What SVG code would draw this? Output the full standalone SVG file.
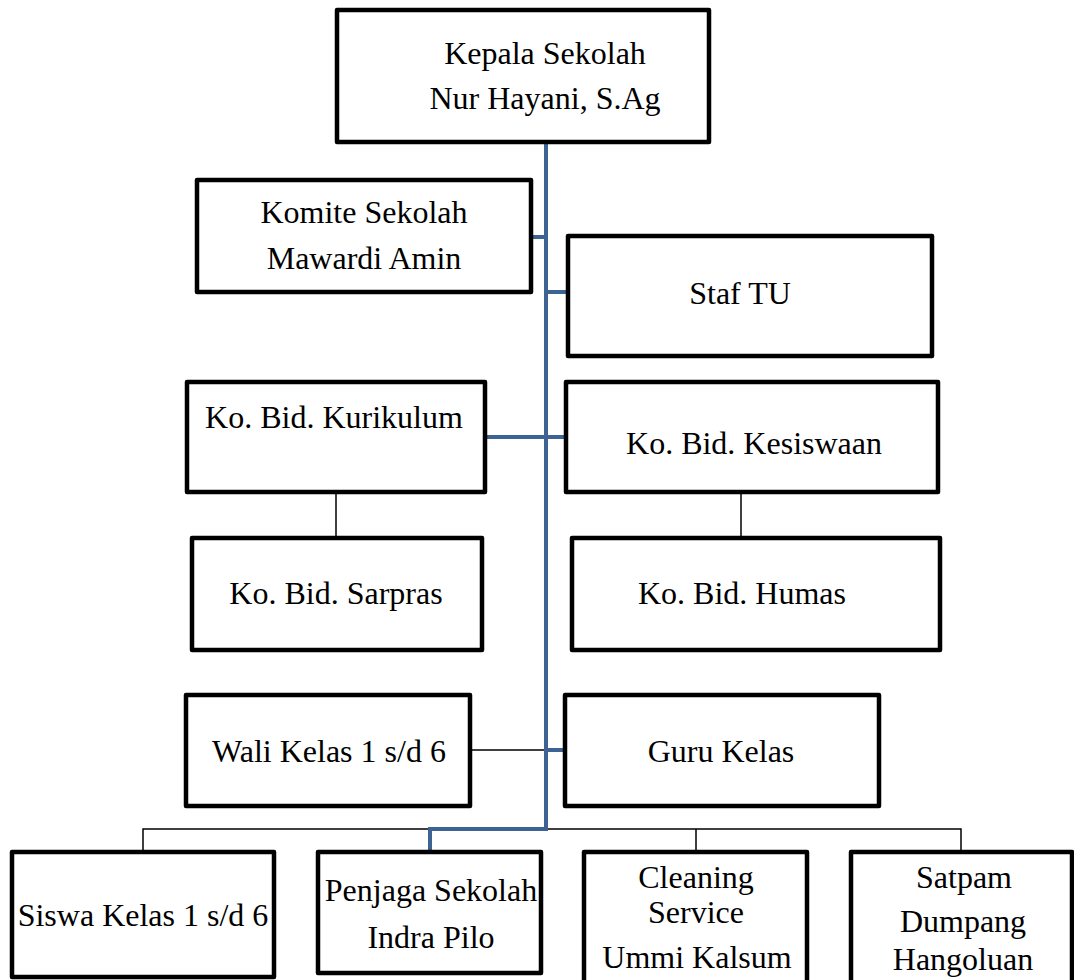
<svg xmlns="http://www.w3.org/2000/svg" width="1074" height="980" viewBox="0 0 1074 980">
<style>
.box{fill:#fff;stroke:#000;stroke-width:4.5;stroke-linejoin:round}
.t{font-family:"Liberation Serif","Times New Roman",serif;font-size:32px;fill:#000;text-anchor:middle}
.blue{fill:none;stroke:#3d6394;stroke-width:4}
.thin{fill:none;stroke:#000;stroke-width:1.5}
</style>
<rect width="1074" height="980" fill="#fff"/>
<g id="connectors">
<path class="thin" d="M143,852 V829 H961 V852 M696,829 V852"/>
<path class="thin" d="M470,750 H546"/>
<path class="thin" d="M336,492 V538"/>
<path class="thin" d="M741,492 V538"/>
<path class="blue" d="M546,142 V829 H430 V852"/>
<path class="blue" d="M531,237 H546"/>
<path class="blue" d="M546,292 H568"/>
<path class="blue" d="M485,437 H566"/>
<path class="blue" d="M546,750 H565"/>
</g>
<g id="kepala"><rect class="box" x="337" y="10" width="372" height="132"/><text class="t" x="545" y="64">Kepala Sekolah</text><text class="t" x="545" y="109">Nur Hayani, S.Ag</text></g>
<g id="komite"><rect class="box" x="197" y="180" width="334" height="112"/><text class="t" x="364" y="223">Komite Sekolah</text><text class="t" x="364" y="269">Mawardi Amin</text></g>
<g id="staf-tu"><rect class="box" x="568" y="236" width="364" height="120"/><text class="t" x="740" y="304">Staf TU</text></g>
<g id="kurikulum"><rect class="box" x="187" y="382" width="298" height="110"/><text class="t" x="334" y="428">Ko. Bid. Kurikulum</text></g>
<g id="kesiswaan"><rect class="box" x="566" y="382" width="372" height="110"/><text class="t" x="754" y="454">Ko. Bid. Kesiswaan</text></g>
<g id="sarpras"><rect class="box" x="192" y="538" width="290" height="112"/><text class="t" x="336" y="604">Ko. Bid. Sarpras</text></g>
<g id="humas"><rect class="box" x="572" y="538" width="368" height="112"/><text class="t" x="742" y="604">Ko. Bid. Humas</text></g>
<g id="wali"><rect class="box" x="186" y="695" width="284" height="111"/><text class="t" x="329" y="762">Wali Kelas 1 s/d 6</text></g>
<g id="guru"><rect class="box" x="565" y="695" width="314" height="111"/><text class="t" x="721" y="762">Guru Kelas</text></g>
<g id="siswa"><rect class="box" x="12" y="852" width="262" height="125"/><text class="t" x="143" y="926">Siswa Kelas 1 s/d 6</text></g>
<g id="penjaga"><rect class="box" x="318" y="852" width="223" height="121"/><text class="t" x="431" y="901">Penjaga Sekolah</text><text class="t" x="431" y="948">Indra Pilo</text></g>
<g id="cleaning"><rect class="box" x="584" y="852" width="223" height="140"/><text class="t" x="696" y="888">Cleaning</text><text class="t" x="696" y="923">Service</text><text class="t" x="697" y="968">Ummi Kalsum</text></g>
<g id="satpam"><rect class="box" x="851" y="852" width="221" height="140"/><text class="t" x="964" y="888">Satpam</text><text class="t" x="963" y="932">Dumpang</text><text class="t" x="963" y="970">Hangoluan</text></g>
</svg>
